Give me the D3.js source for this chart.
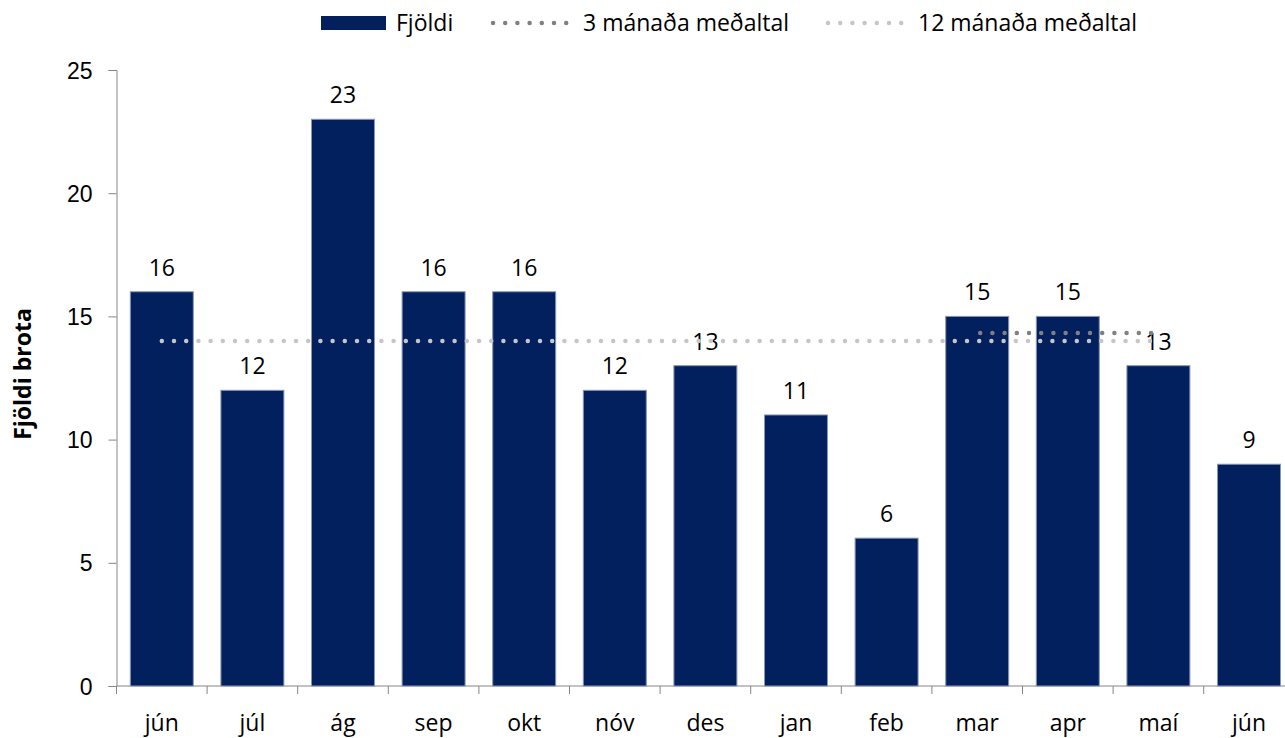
<!DOCTYPE html>
<html>
<head>
<meta charset="utf-8">
<style>
body { margin: 0; background: #fff; }
svg { font-family: "Open Sans", sans-serif; }
.axis path, .axis line { stroke: #868686; }
.axis text { font-size: 23px; fill: #000; }
.lbl { font-size: 23px; fill: #000; text-anchor: middle; }
.legend text { font-size: 23px; fill: #000; }
</style>
</head>
<body>
<svg width="1285" height="738"></svg>
<script src="https://cdn.jsdelivr.net/npm/d3@7"></script>
<script>
// data
var months = ["jún","júl","ág","sep","okt","nóv","des","jan","feb","mar","apr","maí","jún"];
var counts = [16,12,23,16,16,12,13,11,6,15,15,13,9];
var avg3  = [null,null,null,null,null,null,null,null,null,14.33,14.33,14.33,null];
var avg12 = [14,14,14,14,14,14,14,14,14,14,14,14,null];
var yTicks = [0,5,10,15,20,25];

var svg = d3.select("svg");
var left = 116.5, step = 90.6;

// index-based band so repeated month names stay separate
var x = d3.scaleBand()
  .domain(d3.range(months.length))
  .range([left, left + step * months.length])
  .paddingInner(0.305)
  .paddingOuter(0.1525);

var y = d3.scaleLinear().domain([0, 25]).range([686, 70]);

// y axis
var gy = svg.append("g").attr("class", "axis")
  .attr("transform", "translate(" + left + ",0)")
  .call(d3.axisLeft(y).tickValues(yTicks).tickSize(8).tickSizeOuter(8).tickPadding(16));
gy.selectAll("text").attr("dy", "0.35em");

// x axis, ticks between categories
var gx = svg.append("g").attr("class", "axis")
  .attr("transform", "translate(0," + y(0) + ")");
gx.append("line").attr("x1", left).attr("x2", left + step * months.length)
  .attr("stroke", "#868686");
gx.selectAll(".tk").data(d3.range(months.length + 1)).enter().append("line")
  .attr("x1", function(i){ return left + i * step; })
  .attr("x2", function(i){ return left + i * step; })
  .attr("y1", 0).attr("y2", 8).attr("stroke", "#868686");
gx.selectAll(".ml").data(months).enter().append("text")
  .attr("x", function(d, i){ return x(i) + x.bandwidth() / 2; })
  .attr("y", 45).attr("text-anchor", "middle")
  .text(function(d){ return d; });

// bars
svg.selectAll(".bar").data(counts).enter().append("rect")
  .attr("class", "bar")
  .attr("x", function(d, i){ return x(i); })
  .attr("y", function(d){ return y(d); })
  .attr("width", x.bandwidth())
  .attr("height", function(d){ return y(0) - y(d); })
  .attr("fill", "#02205e")
  .attr("stroke", "#8895b5").attr("stroke-width", 1);

// value labels
svg.selectAll(".lbl").data(counts).enter().append("text")
  .attr("class", "lbl")
  .attr("x", function(d, i){ return x(i) + x.bandwidth() / 2; })
  .attr("y", function(d){ return y(d) - 16; })
  .text(function(d){ return d; });

// dotted average lines
var line = d3.line()
  .defined(function(d){ return d != null; })
  .x(function(d, i){ return x(i) + x.bandwidth() / 2; })
  .y(function(d){ return y(d); });

svg.append("path").datum(avg12).attr("d", line)
  .attr("fill", "none").attr("stroke", "#c6c6c6").attr("stroke-width", 4.5)
  .attr("stroke-linecap", "round").attr("stroke-dasharray", "0 12.2");
svg.append("path").datum(avg3).attr("d", line)
  .attr("fill", "none").attr("stroke", "#808080").attr("stroke-width", 4.5)
  .attr("stroke-linecap", "round").attr("stroke-dasharray", "0 12.2")
  .attr("transform", "translate(3,0)");

// y title
svg.append("text")
  .attr("transform", "translate(31,374) rotate(-90)")
  .attr("text-anchor", "middle").attr("font-size", 23).attr("font-weight", "bold")
  .text("Fjöldi brota");

// legend
var lg = svg.append("g").attr("class", "legend");
lg.append("rect").attr("x", 321).attr("y", 16).attr("width", 65).attr("height", 14).attr("fill", "#02205e");
lg.append("text").attr("x", 396).attr("y", 31).text("Fjöldi");
lg.append("line").attr("x1", 493).attr("x2", 575).attr("y1", 23).attr("y2", 23)
  .attr("stroke", "#808080").attr("stroke-width", 4.5).attr("stroke-linecap", "round").attr("stroke-dasharray", "0 12.2");
lg.append("text").attr("x", 583).attr("y", 31).text("3 mánaða meðaltal");
lg.append("line").attr("x1", 828).attr("x2", 910).attr("y1", 23).attr("y2", 23)
  .attr("stroke", "#c6c6c6").attr("stroke-width", 4.5).attr("stroke-linecap", "round").attr("stroke-dasharray", "0 12.2");
lg.append("text").attr("x", 918).attr("y", 31).text("12 mánaða meðaltal");
</script>
</body>
</html>
